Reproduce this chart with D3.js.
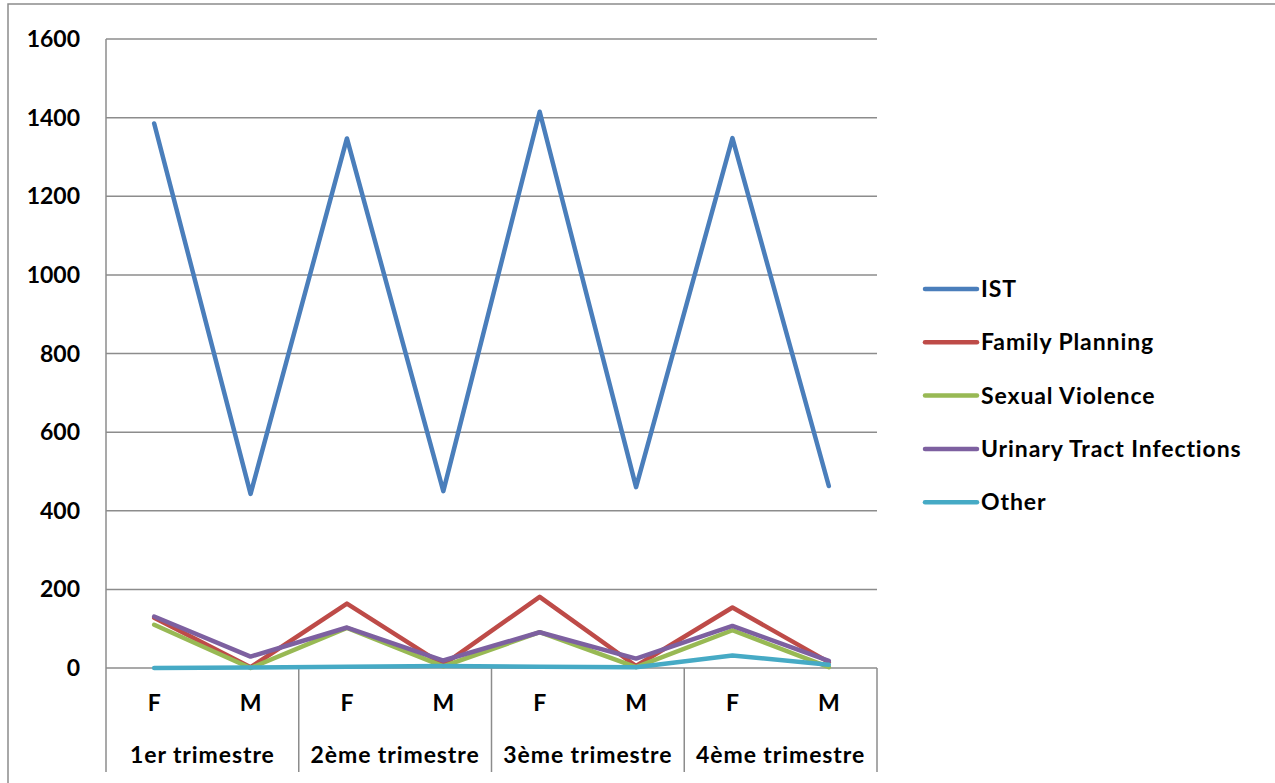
<!DOCTYPE html>
<html>
<head>
<meta charset="utf-8">
<script src="https://cdn.jsdelivr.net/npm/d3@7"></script>
<style>
  html, body { margin: 0; padding: 0; background: #fff; }
  svg { display: block; }
  text { font-family: "Lato", "Liberation Sans", sans-serif; font-weight: bold; fill: #000; }
  .lbl { letter-spacing: 0.9px; }
</style>
</head>
<body>
<svg id="chart" width="1275" height="783"></svg>
<script>
// ---- Data ----
const quarters = ["1er trimestre", "2ème trimestre", "3ème trimestre", "4ème trimestre"];
const sexes = ["F", "M"];
const yTicks = [0, 200, 400, 600, 800, 1000, 1200, 1400, 1600];

const seriesNames = ["IST", "Family Planning", "Sexual Violence", "Urinary Tract Infections", "Other"];
const seriesColors = ["#4a7ebb", "#be4b48", "#98b954", "#7d60a0", "#46aac5"];

const istValues = [1385, 443, 1347, 450, 1415, 460, 1348, 463];
const familyPlanningValues = [128, 2, 164, 8, 181, 5, 154, 15];
const sexualViolenceValues = [110, 0, 102, 4, 91, 2, 96, 2];
const utiValues = [131, 29, 103, 19, 91, 24, 107, 18];
const otherValues = [0, 1, 3, 5, 3, 2, 32, 8];

const seriesValues = [istValues, familyPlanningValues, sexualViolenceValues, utiValues, otherValues];

// ---- Layout ----
const svg = d3.select("#chart");
const pLeft = 106, pRight = 877, pTop = 39, pBottom = 668;
const FS = 23;

const categories = [];
quarters.forEach((q, qi) => sexes.forEach(s => categories.push(qi + "-" + s)));

const x = d3.scaleBand().domain(categories).range([pLeft, pRight]);
const xq = d3.scaleBand().domain(quarters).range([pLeft, pRight]);
const y = d3.scaleLinear().domain([0, 1600]).range([pBottom, pTop]);

// outer border
svg.append("path")
  .attr("d", `M8,790 L8,4 L1280,4`)
  .attr("fill", "none").attr("stroke", "#8c8c8c").attr("stroke-width", 1.5);

// gridlines
svg.append("g").selectAll("line").data(yTicks).join("line")
  .attr("x1", pLeft).attr("x2", pRight)
  .attr("y1", d => y(d)).attr("y2", d => y(d))
  .attr("stroke", "#8c8c8c").attr("stroke-width", 1.5);

// y axis line
svg.append("line").attr("x1", pLeft).attr("x2", pLeft).attr("y1", pTop).attr("y2", pBottom)
  .attr("stroke", "#8c8c8c").attr("stroke-width", 1.5);

// y tick labels
svg.append("g").selectAll("text").data(yTicks).join("text")
  .attr("x", 80).attr("y", d => y(d)).attr("dy", "0.35em")
  .attr("text-anchor", "end").attr("font-size", FS)
  .text(d => d);

// category separators
const seps = quarters.map(q => xq(q)).concat([pRight]);
svg.append("g").selectAll("line").data(seps).join("line")
  .attr("x1", d => d).attr("x2", d => d).attr("y1", pBottom).attr("y2", 772)
  .attr("stroke", "#8c8c8c").attr("stroke-width", 1.5);

// F/M labels
svg.append("g").selectAll("text").data(categories).join("text")
  .attr("x", d => x(d) + x.bandwidth() / 2).attr("y", 703).attr("dy", "0.35em")
  .attr("text-anchor", "middle").attr("font-size", FS)
  .text(d => d.split("-")[1]);

// quarter labels
svg.append("g").selectAll("text").data(quarters).join("text")
  .attr("class", "lbl")
  .attr("x", d => xq(d) + xq.bandwidth() / 2).attr("y", 755).attr("dy", "0.35em")
  .attr("text-anchor", "middle").attr("font-size", FS)
  .text(d => d);

// lines
const line = d3.line().x((d, i) => x(categories[i]) + x.bandwidth() / 2).y(d => y(d));
const drawOrder = [0, 1, 2, 3, 4];
svg.append("g").selectAll("path").data(drawOrder).join("path")
  .attr("d", i => line(seriesValues[i]))
  .attr("fill", "none")
  .attr("stroke", i => seriesColors[i])
  .attr("stroke-width", 4.5)
  .attr("stroke-linejoin", "round")
  .attr("stroke-linecap", "round");

// legend
const lg = svg.append("g");
seriesNames.forEach((name, i) => {
  const ly = 289 + i * 53.3;
  lg.append("line").attr("x1", 925).attr("x2", 977).attr("y1", ly).attr("y2", ly)
    .attr("stroke", seriesColors[i]).attr("stroke-width", 4.5).attr("stroke-linecap", "round");
  lg.append("text").attr("class", "lbl").attr("x", 981).attr("y", ly).attr("dy", "0.35em")
    .attr("font-size", FS).text(name);
});
</script>
</body>
</html>
